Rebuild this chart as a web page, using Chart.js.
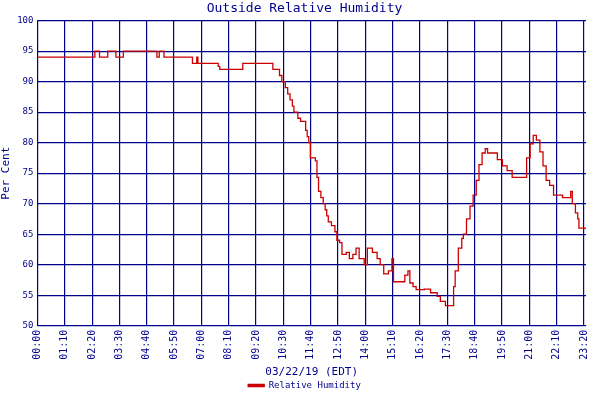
<!DOCTYPE html>
<html><head><meta charset="utf-8">
<script src="https://cdn.jsdelivr.net/npm/chart.js@4"></script>
<style>html,body{margin:0;background:#fff}#wrap{width:600px;height:400px}</style>
</head><body><div id="wrap"><canvas id="c"></canvas></div>
<script>
// minutes after midnight, 03/22/19
const MINUTES = [0,147,159,180,201,220,306,312,324,397,408,411,463,467,526,603,620,626,635,641,647,653,657,667,674,687,691,695,699,
  712,716,720,726,732,737,741,745,753,762,767,774,780,791,799,808,816,824,837,845,858,870,878,887,899,908,912,933,941,949,954,962,970,991,
  1007,1024,1032,1042,1045,1057,1066,1070,1078,1087,1091,1099,1108,1116,1124,1131,1139,1147,1153,1174,1178,1191,1203,1216,1249,1253,1262,
  1270,1278,1287,1295,1303,1312,1322,1345,1366,1370,1378,1384,1387,1403];
const HUMIDITY = [94,95,94,95,94,95,94,95,94,93,94,93,92.5,92,93,92,91,90,89,88,87,86,85,84,83.5,82,81,80,77.5,
  77,74.3,72,71,70,69,68,67,66.4,65.4,64,63.6,61.7,62,61,61.7,62.7,61,60,62.7,62,61,60,58.5,59,61,57.2,57.2,58.3,59,57,56.4,55.9,56,
  55.4,54.8,54,54,53.3,53.3,56.4,59,62.7,64.3,65,67.5,69.6,71.4,73.8,76.4,78.3,79,78.3,78.3,77.2,76.2,75.4,74.3,74.3,77.5,79.8,
  81.2,80.4,78.5,76.2,73.8,73,71.4,71,72,70,68.5,67.5,66,65.8];
const TICK_STEP = 70;
const X_MAX = 1405;
const NAVY = '#00008B';
const FONT = "'DejaVu Sans Mono', monospace";

const pts = MINUTES.map((m,i)=>({x:m, y:HUMIDITY[i]}));
const fmt = v => String(Math.floor(v/60)).padStart(2,'0')+':'+String(v%60).padStart(2,'0');

new Chart(document.getElementById('c'),{
  type:'line',
  data:{datasets:[{label:'Relative Humidity', data:pts, stepped:true, borderColor:'#CC0000', backgroundColor:'#CC0000',
    borderWidth:1.3, pointRadius:0}]},
  options:{
    responsive:true, maintainAspectRatio:false, animation:false,
    layout:{padding:{right:-9, bottom:0}},
    plugins:{
      title:{display:true, text:'Outside Relative Humidity', color:NAVY, font:{family:FONT,size:13,weight:'normal'}, padding:{top:1,bottom:4}},
      legend:{position:'bottom', labels:{color:NAVY, font:{family:FONT,size:9}, boxWidth:16, boxHeight:2, padding:0}},
      tooltip:{enabled:false}
    },
    scales:{
      x:{type:'linear', min:0, max:X_MAX,
        afterBuildTicks:a=>{const t=[];for(let v=0;v<=1400;v+=TICK_STEP)t.push({value:v});a.ticks=t;},
        ticks:{color:NAVY, font:{family:FONT,size:10}, maxRotation:90, minRotation:90, autoSkip:false, padding:4, callback:v=>fmt(v)},
        grid:{color:NAVY, lineWidth:1.2, drawTicks:false}, border:{color:NAVY},
        title:{display:true, text:'03/22/19 (EDT)', color:NAVY, font:{family:FONT,size:11}, padding:{top:2,bottom:2}}},
      y:{min:50, max:100,
        ticks:{stepSize:5, color:NAVY, font:{family:FONT,size:9}, padding:4},
        grid:{color:NAVY, lineWidth:1.2, drawTicks:false}, border:{color:NAVY},
        title:{display:true, text:'Per Cent', color:NAVY, font:{family:FONT,size:11}, padding:0}}
    }
  }
});
</script></body></html>
